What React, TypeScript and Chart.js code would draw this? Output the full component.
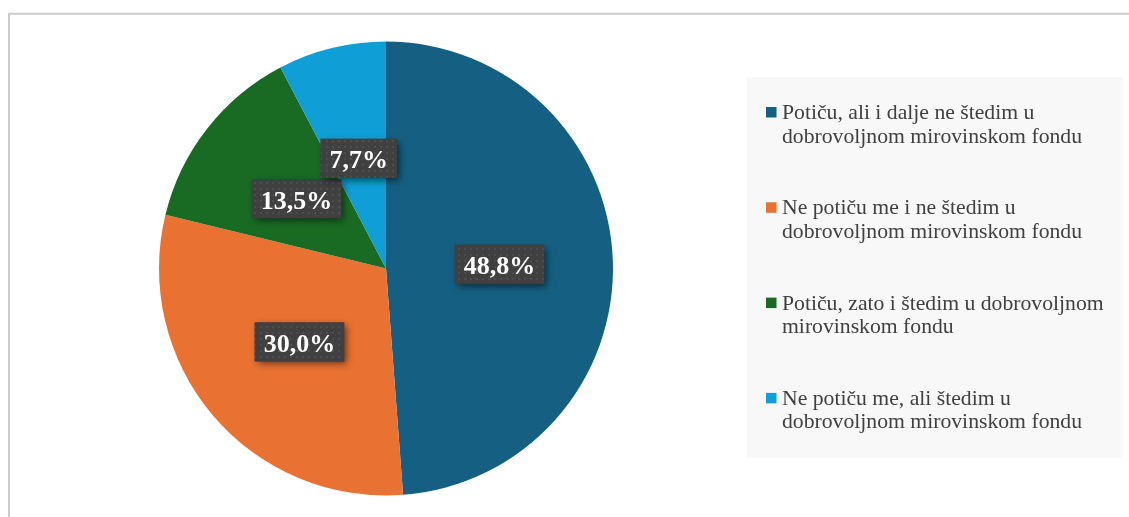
import React, { useEffect, useRef } from "react";
import { Chart, registerables } from "chart.js";

Chart.register(...registerables);

const categories: string[][] = [
  ["Potiču, ali i dalje ne štedim u", "dobrovoljnom mirovinskom fondu"],
  ["Ne potiču me i ne štedim u", "dobrovoljnom mirovinskom fondu"],
  ["Potiču, zato i štedim u dobrovoljnom", "mirovinskom fondu"],
  ["Ne potiču me, ali štedim u", "dobrovoljnom mirovinskom fondu"],
];
const values = [48.8, 30.0, 13.5, 7.7];
const colors = ["#156082", "#E97132", "#196B24", "#0F9ED5"];

const SERIF = '"Liberation Serif", "Times New Roman", serif';

function fmt(v: number): string {
  return v.toFixed(1).replace(".", ",") + "%";
}

function makePattern(ctx: CanvasRenderingContext2D): CanvasPattern | string {
  const c = document.createElement("canvas");
  c.width = 6;
  c.height = 6;
  const p = c.getContext("2d");
  if (!p) return "#404040";
  p.fillStyle = "#404040";
  p.fillRect(0, 0, 6, 6);
  p.fillStyle = "rgba(255,255,255,0.07)";
  p.beginPath();
  p.arc(3, 3, 1.3, 0, Math.PI * 2);
  p.fill();
  return ctx.createPattern(c, "repeat") || "#404040";
}

const framePlugin = {
  id: "framePlugin",
  beforeDraw(chart: any) {
    const ctx: CanvasRenderingContext2D = chart.ctx;
    ctx.save();
    ctx.fillStyle = "#ffffff";
    ctx.fillRect(0, 0, chart.width, chart.height);
    // outer frame
    ctx.strokeStyle = "#cccccc";
    ctx.lineWidth = 2;
    ctx.beginPath();
    ctx.moveTo(9, chart.height);
    ctx.lineTo(9, 13.7);
    ctx.lineTo(chart.width, 13.7);
    ctx.stroke();
    // legend background
    ctx.fillStyle = "#f8f8f8";
    ctx.fillRect(747, 77, 376, 381);
    ctx.restore();
  },
};

const labelPlugin = {
  id: "labelPlugin",
  afterDatasetsDraw(chart: any) {
    const ctx: CanvasRenderingContext2D = chart.ctx;
    const meta = chart.getDatasetMeta(0);
    const data = chart.data.datasets[0].data as number[];
    const pattern = makePattern(ctx);
    ctx.save();
    ctx.font = `bold 26px ${SERIF}`;
    meta.data.forEach((arc: any, i: number) => {
      const pos = arc.tooltipPosition(false);
      const text = fmt(data[i]);
      const tw = ctx.measureText(text).width;
      const w = tw + 18;
      const h = 39;
      const x = pos.x - w / 2;
      const y = pos.y - h / 2;
      ctx.save();
      ctx.shadowColor = "rgba(0,0,0,0.55)";
      ctx.shadowBlur = 7;
      ctx.shadowOffsetX = 3;
      ctx.shadowOffsetY = 3;
      ctx.fillStyle = "#404040";
      ctx.fillRect(x, y, w, h);
      ctx.restore();
      ctx.fillStyle = pattern as any;
      ctx.fillRect(x, y, w, h);
      ctx.fillStyle = "#ffffff";
      ctx.textAlign = "center";
      ctx.textBaseline = "alphabetic";
      ctx.fillText(text, pos.x, pos.y + 10);
    });
    ctx.restore();
  },
  afterDraw(chart: any) {
    const ctx: CanvasRenderingContext2D = chart.ctx;
    const labels = chart.data.labels as string[][];
    const bg = chart.data.datasets[0].backgroundColor as string[];
    ctx.save();
    ctx.font = `21.7px ${SERIF}`;
    ctx.textAlign = "left";
    ctx.textBaseline = "alphabetic";
    labels.forEach((lines, i) => {
      const base = 119 + i * 95.3;
      ctx.fillStyle = bg[i];
      ctx.fillRect(766, base - 12, 10.5, 10.5);
      ctx.fillStyle = "#404040";
      lines.forEach((ln, j) => {
        ctx.fillText(ln, 782, base + j * 23.5);
      });
    });
    ctx.restore();
  },
};

export default function App() {
  const ref = useRef<HTMLCanvasElement | null>(null);
  useEffect(() => {
    if (!ref.current) return;
    const chart = new Chart(ref.current, {
      type: "pie",
      data: {
        labels: categories as any,
        datasets: [
          {
            data: values,
            backgroundColor: colors,
            borderWidth: 0,
            hoverBorderWidth: 0,
            hoverOffset: 0,
          } as any,
        ],
      },
      options: {
        responsive: false,
        animation: false,
        devicePixelRatio: 1,
        layout: {
          padding: { left: 159, right: 516, top: 41.5, bottom: 21.5 },
        },
        plugins: {
          legend: { display: false },
          tooltip: { enabled: false },
        },
      },
      plugins: [framePlugin, labelPlugin],
    });
    return () => chart.destroy();
  }, []);
  return (
    <div style={{ position: "fixed", left: 0, top: 0, width: 1129, height: 517, background: "#fff" }}>
      <canvas ref={ref} width={1129} height={517} style={{ display: "block", width: 1129, height: 517 }} />
    </div>
  );
}
